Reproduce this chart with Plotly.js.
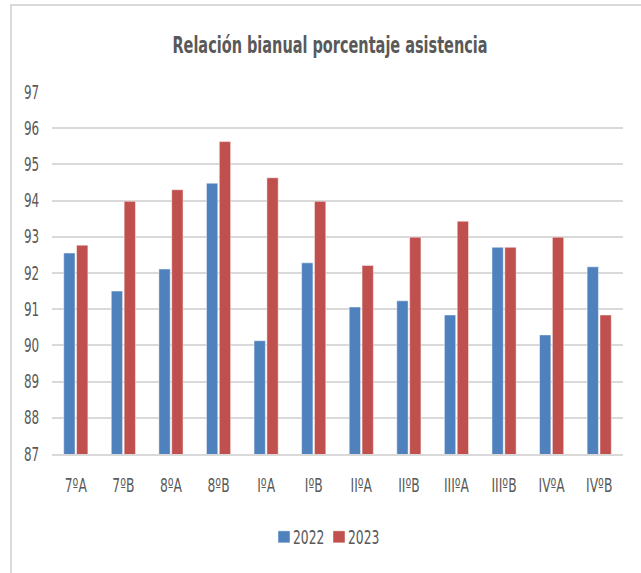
<!DOCTYPE html>
<html>
<head>
<meta charset="utf-8">
<script src="https://cdn.plot.ly/plotly-3.0.1.min.js"></script>
<style>
  html, body { margin: 0; padding: 0; background: #fff; overflow: hidden; }
  #wrap { position: relative; width: 641px; height: 573px; }
  #frame { position: absolute; left: 10px; top: 4px; width: 700px; height: 700px; border: 2px solid #d9d9d9; box-sizing: border-box; pointer-events: none; }
  #chart { position: absolute; left: 0; top: 0; width: 641px; height: 573px; }
</style>
</head>
<body>
<div id="wrap">
  <div id="chart"></div>
  <div id="frame"></div>
</div>
<script>
const categories = ["7ºA", "7ºB", "8ºA", "8ºB", "IºA", "IºB", "IIºA", "IIºB", "IIIºA", "IIIºB", "IVºA", "IVºB"];
const values2022 = [92.55, 91.5, 92.11, 94.48, 90.13, 92.28, 91.06, 91.23, 90.84, 92.71, 90.29, 92.17];
const values2023 = [92.77, 93.98, 94.3, 95.63, 94.63, 93.98, 92.21, 92.99, 93.43, 92.71, 92.99, 90.84];
const seriesNames = ["2022", "2023"];
const yTicks = [87, 88, 89, 90, 91, 92, 93, 94, 95, 96, 97];
const chartTitle = "Relación bianual porcentaje asistencia";

const FONT = "'DejaVu Sans Condensed', 'Liberation Sans Narrow', sans-serif";
const GRAY = "#595959";

const traces = [
  {
    type: "bar", name: seriesNames[0], x: categories, y: values2022,
    marker: { color: "#4F81BD", line: { color: "rgba(255,255,255,0.45)", width: 1 } }
  },
  {
    type: "bar", name: seriesNames[1], x: categories, y: values2023,
    marker: { color: "#C0504D", line: { color: "rgba(255,255,255,0.45)", width: 1 } }
  }
];

const layout = {
  width: 641, height: 573,
  margin: { l: 52, r: 18, t: 92, b: 119 },
  paper_bgcolor: "#ffffff", plot_bgcolor: "#ffffff",
  font: { family: FONT, color: GRAY, size: 19 },
  title: {
    text: "<b>" + chartTitle + "</b>",
    font: { family: FONT, size: 23, color: GRAY },
    xref: "container", yref: "container",
    x: 330 / 641, xanchor: "center",
    y: 1 - 45 / 573, yanchor: "middle"
  },
  barmode: "group",
  bargap: 0.46,
  bargroupgap: 0.12,
  xaxis: {
    type: "category",
    showgrid: false,
    showline: true, linecolor: "#d9d9d9", linewidth: 2,
    ticks: "outside", ticklen: 13, tickcolor: "rgba(0,0,0,0)",
    tickfont: { family: FONT, size: 19, color: GRAY },
    fixedrange: true
  },
  yaxis: {
    range: [87, 97],
    tickvals: yTicks,
    ticktext: yTicks.map(String),
    showgrid: true, gridcolor: "#d9d9d9", gridwidth: 2,
    zeroline: false, showline: false,
    ticks: "outside", ticklen: 8, tickcolor: "rgba(0,0,0,0)",
    tickfont: { family: FONT, size: 19, color: GRAY },
    fixedrange: true
  },
  showlegend: true,
  legend: {
    orientation: "h",
    x: (264 - 52) / 571, xanchor: "left",
    y: (454 - 537) / 362, yanchor: "middle",
    font: { family: FONT, size: 19, color: GRAY },
    itemwidth: 30,
    entrywidth: 16, entrywidthmode: "pixels",
    traceorder: "normal"
  }
};

function squish(root, selector, factor) {
  root.querySelectorAll(selector).forEach(function (t) {
    const w = t.getComputedTextLength();
    if (w > 0) {
      t.setAttribute("textLength", (w * factor).toFixed(2));
      t.setAttribute("lengthAdjust", "spacingAndGlyphs");
    }
  });
}

Plotly.newPlot("chart", traces, layout, { displayModeBar: false, staticPlot: true }).then(function (gd) {
  squish(gd, "text.gtitle", 0.70);
  squish(gd, ".xtick text", 0.72);
  squish(gd, ".ytick text", 0.70);
  gd.querySelectorAll("text.legendtext").forEach(function (t) { t.setAttribute("x", 29); });
  squish(gd, "text.legendtext", 0.72);
  const items = gd.querySelectorAll(".legend g.traces");
  if (items.length > 1) {
    const tr = items[1].getAttribute("transform") || "";
    items[1].setAttribute("transform", tr + " translate(-6,0)");
  }
});
</script>
</body>
</html>
